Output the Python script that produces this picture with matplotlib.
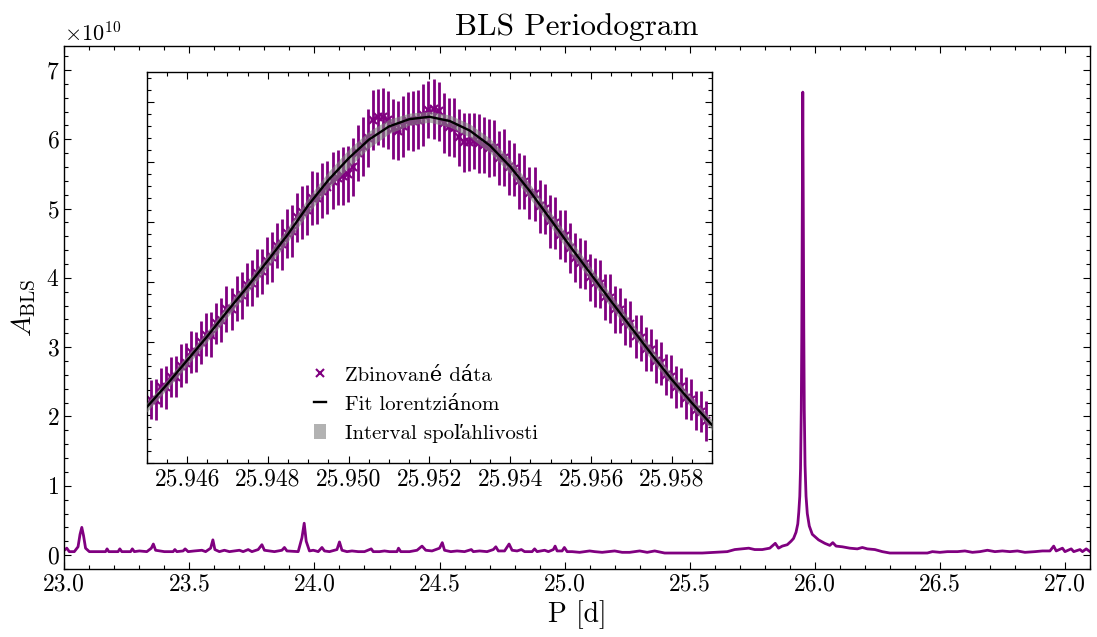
#!/usr/bin/env python3
# BLS periodogram with a zoomed inset around the main peak

import numpy as np
import matplotlib
matplotlib.use("Agg")
import matplotlib.pyplot as plt
from matplotlib.ticker import MultipleLocator, NullFormatter, FormatStrFormatter

# --- data (amplitudes in units of 1e10) ---
SCALE = 1e10

# full periodogram
period = [
    23.000, 23.010, 23.020, 23.040, 23.055, 23.063, 23.070, 23.077, 23.085, 23.100,
    23.140, 23.165, 23.171, 23.178, 23.215, 23.222, 23.230, 23.265, 23.272, 23.280,
    23.300, 23.330, 23.348, 23.356, 23.365, 23.400, 23.435, 23.442, 23.450, 23.475,
    23.483, 23.495, 23.520, 23.550, 23.565, 23.585, 23.594, 23.602, 23.620, 23.640,
    23.660, 23.700, 23.715, 23.735, 23.750, 23.775, 23.790, 23.800, 23.840, 23.870,
    23.880, 23.890, 23.935, 23.950, 23.959, 23.967, 23.980, 23.995, 24.006, 24.015,
    24.030, 24.040, 24.060, 24.090, 24.100, 24.110, 24.130, 24.150, 24.175, 24.200,
    24.227, 24.235, 24.260, 24.280, 24.300, 24.330, 24.336, 24.345, 24.380, 24.410,
    24.430, 24.445, 24.470, 24.500, 24.511, 24.520, 24.545, 24.570, 24.600, 24.627,
    24.635, 24.660, 24.690, 24.715, 24.725, 24.735, 24.760, 24.778, 24.790, 24.810,
    24.827, 24.840, 24.870, 24.880, 24.890, 24.920, 24.935, 24.955, 24.962, 24.970,
    24.990, 24.999, 25.010, 25.030, 25.060, 25.080, 25.100, 25.120, 25.150, 25.200,
    25.230, 25.260, 25.300, 25.330, 25.360, 25.400, 25.450, 25.500, 25.550, 25.600,
    25.650, 25.680, 25.710, 25.736, 25.760, 25.790, 25.820, 25.842, 25.855, 25.870,
    25.890, 25.905, 25.915, 25.925, 25.932, 25.936, 25.940, 25.943, 25.946, 25.948,
    25.950, 25.952, 25.954, 25.956, 25.958, 25.961, 25.965, 25.970, 25.978, 25.990,
    26.015, 26.040, 26.060, 26.072, 26.085, 26.110, 26.140, 26.170, 26.190, 26.210,
    26.240, 26.270, 26.300, 26.350, 26.400, 26.450, 26.470, 26.500, 26.530, 26.570,
    26.600, 26.630, 26.660, 26.690, 26.720, 26.750, 26.780, 26.810, 26.840, 26.880,
    26.910, 26.940, 26.955, 26.965, 26.990, 27.000, 27.025, 27.035, 27.060, 27.070,
    27.085, 27.100,
]
power = [
    0.07, 0.10, 0.05, 0.05, 0.12, 0.30, 0.40, 0.28, 0.10, 0.05,
    0.05, 0.05, 0.09, 0.05, 0.05, 0.09, 0.05, 0.05, 0.09, 0.05,
    0.06, 0.05, 0.10, 0.16, 0.07, 0.05, 0.05, 0.08, 0.05, 0.06,
    0.09, 0.05, 0.06, 0.07, 0.05, 0.10, 0.22, 0.08, 0.05, 0.07,
    0.05, 0.07, 0.05, 0.08, 0.05, 0.08, 0.15, 0.07, 0.05, 0.07,
    0.11, 0.06, 0.05, 0.25, 0.46, 0.20, 0.06, 0.07, 0.06, 0.05,
    0.11, 0.06, 0.05, 0.08, 0.19, 0.07, 0.05, 0.06, 0.05, 0.05,
    0.09, 0.05, 0.05, 0.06, 0.05, 0.05, 0.10, 0.05, 0.05, 0.07,
    0.13, 0.07, 0.06, 0.10, 0.18, 0.07, 0.05, 0.06, 0.05, 0.08,
    0.05, 0.06, 0.05, 0.08, 0.12, 0.06, 0.06, 0.16, 0.07, 0.06,
    0.08, 0.05, 0.05, 0.09, 0.05, 0.07, 0.05, 0.08, 0.13, 0.06,
    0.06, 0.11, 0.05, 0.05, 0.04, 0.05, 0.06, 0.05, 0.04, 0.06,
    0.04, 0.04, 0.06, 0.04, 0.06, 0.03, 0.03, 0.03, 0.03, 0.04,
    0.05, 0.08, 0.09, 0.10, 0.08, 0.08, 0.10, 0.17, 0.10, 0.13,
    0.15, 0.20, 0.24, 0.33, 0.45, 0.62, 0.85, 1.25, 2.10, 3.20,
    5.00, 6.68, 5.00, 3.30, 2.10, 1.30, 0.85, 0.60, 0.42, 0.30,
    0.22, 0.17, 0.14, 0.18, 0.13, 0.12, 0.10, 0.09, 0.11, 0.09,
    0.08, 0.05, 0.03, 0.03, 0.03, 0.03, 0.05, 0.04, 0.05, 0.05,
    0.06, 0.04, 0.05, 0.07, 0.05, 0.06, 0.05, 0.06, 0.04, 0.05,
    0.06, 0.06, 0.13, 0.06, 0.10, 0.05, 0.09, 0.05, 0.08, 0.05,
    0.09, 0.05,
]

# binned data around the peak
bin_start = 25.9451
bin_width = 0.000125
binned_power = [
    2.05, 2.05, 2.25, 2.25, 2.42, 2.43, 2.61, 2.66, 2.84, 2.84,
    3.00, 3.13, 3.13, 3.32, 3.37, 3.55, 3.56, 3.73, 3.78, 3.96,
    3.99, 4.16, 4.18, 4.36, 4.42, 4.61, 4.63, 4.81, 4.85, 5.08,
    5.16, 5.20, 5.40, 5.40, 5.52, 5.58, 5.69, 5.74, 5.77, 5.80,
    5.92, 6.15, 6.26, 6.40, 6.69, 6.75, 6.74, 6.70, 6.55, 6.52,
    6.59, 6.68, 6.68, 6.70, 6.78, 6.87, 6.88, 6.84, 6.64, 6.58,
    6.57, 6.41, 6.33, 6.33, 6.35, 6.31, 6.28, 6.23, 6.23, 6.07,
    6.07, 5.91, 5.88, 5.68, 5.66, 5.48, 5.46, 5.26, 5.22, 5.01,
    4.98, 4.79, 4.77, 4.57, 4.41, 4.32, 4.30, 4.08, 3.99, 3.97,
    3.76, 3.73, 3.55, 3.53, 3.34, 3.30, 3.10, 3.07, 2.89, 2.87,
    2.69, 2.65, 2.46, 2.43, 2.26, 2.25, 2.08, 2.05, 1.87, 1.85,
    1.69,
]
binned_err = [
    0.33, 0.34, 0.32, 0.35, 0.33, 0.34, 0.36, 0.33, 0.35, 0.34,
    0.36, 0.35, 0.37, 0.34, 0.36, 0.38, 0.35, 0.37, 0.39, 0.36,
    0.38, 0.40, 0.37, 0.39, 0.41, 0.38, 0.42, 0.40, 0.43, 0.41,
    0.44, 0.42, 0.45, 0.43, 0.46, 0.44, 0.47, 0.45, 0.48, 0.46,
    0.48, 0.47, 0.49, 0.48, 0.50, 0.47, 0.49, 0.48, 0.50, 0.49,
    0.51, 0.48, 0.50, 0.49, 0.51, 0.48, 0.50, 0.49, 0.50, 0.48,
    0.49, 0.47, 0.49, 0.48, 0.47, 0.49, 0.46, 0.48, 0.47, 0.45,
    0.47, 0.46, 0.44, 0.46, 0.45, 0.43, 0.45, 0.44, 0.42, 0.44,
    0.43, 0.41, 0.43, 0.42, 0.40, 0.42, 0.41, 0.39, 0.41, 0.40,
    0.38, 0.40, 0.39, 0.37, 0.39, 0.38, 0.36, 0.38, 0.37, 0.35,
    0.37, 0.36, 0.34, 0.36, 0.35, 0.33, 0.35, 0.34, 0.32, 0.34,
    0.33,
]

# Lorentzian fit and its confidence band
fit_period = [
    25.9450, 25.9455, 25.9460, 25.9465, 25.9470, 25.9475, 25.9480, 25.9485,
    25.9490, 25.9495, 25.9500, 25.9505, 25.9510, 25.9515, 25.9520, 25.9525,
    25.9530, 25.9535, 25.9540, 25.9545, 25.9550, 25.9555, 25.9560, 25.9565,
    25.9570, 25.9575, 25.9580, 25.9585, 25.9590,
]
fit_power = [
    1.92, 2.30, 2.70, 3.10, 3.52, 3.93, 4.36, 4.80,
    5.28, 5.70, 6.06, 6.37, 6.59, 6.71, 6.75, 6.68,
    6.52, 6.27, 5.92, 5.50, 5.04, 4.58, 4.13, 3.68,
    3.24, 2.80, 2.38, 1.99, 1.62,
]
fit_band = [
    0.08, 0.08, 0.09, 0.09, 0.10, 0.10, 0.11, 0.12,
    0.13, 0.14, 0.15, 0.14, 0.12, 0.10, 0.09, 0.10,
    0.11, 0.12, 0.12, 0.12, 0.12, 0.12, 0.11, 0.11,
    0.10, 0.10, 0.09, 0.09, 0.08,
]

# --- style ---
plt.rcParams['font.family'] = ['cmr10', 'DejaVu Serif']
plt.rcParams['mathtext.fontset'] = 'cm'
plt.rcParams['axes.formatter.use_mathtext'] = True
plt.rcParams['axes.unicode_minus'] = False
plt.rcParams['xtick.direction'] = 'in'
plt.rcParams['ytick.direction'] = 'in'
plt.rcParams['xtick.top'] = True
plt.rcParams['ytick.right'] = True
plt.rcParams['xtick.major.size'] = 5
plt.rcParams['ytick.major.size'] = 5
plt.rcParams['xtick.minor.size'] = 2.8
plt.rcParams['ytick.minor.size'] = 2.8
plt.rcParams['xtick.major.width'] = 0.8
plt.rcParams['ytick.major.width'] = 0.8
plt.rcParams['xtick.minor.width'] = 0.8
plt.rcParams['ytick.minor.width'] = 0.8
plt.rcParams['axes.linewidth'] = 1.0
plt.rcParams['font.size'] = 17

PURPLE = '#800080'

fig = plt.figure(figsize=(10.97, 6.37), dpi=100)
ax = fig.add_axes([0.0586, 0.1068, 0.935, 0.8215])

p = np.array(period)
a = np.array(power) * SCALE
ax.plot(p, a, color=PURPLE, linewidth=2.0)

ax.set_xlim(23.0, 27.1)
ax.set_ylim(-0.2 * SCALE, 7.35 * SCALE)
ax.xaxis.set_major_locator(MultipleLocator(0.5))
ax.xaxis.set_minor_locator(MultipleLocator(0.1))
ax.yaxis.set_major_locator(MultipleLocator(1 * SCALE))
ax.yaxis.set_minor_locator(MultipleLocator(0.2 * SCALE))
ax.xaxis.set_major_formatter(FormatStrFormatter('%.1f'))
ax.tick_params(labelsize=17)
ax.yaxis.get_offset_text().set_fontsize(16)

ax.set_title('BLS Periodogram', fontsize=22.5, pad=8)
ax.set_xlabel('P [d]', fontsize=20, labelpad=3)
ax.set_ylabel(r'$A_{\mathrm{BLS}}$', fontsize=20, labelpad=6)

# --- inset ---
ins = fig.add_axes([0.1337, 0.2727, 0.5156, 0.6148])
ins.set_facecolor('white')

bins = bin_start + bin_width * np.arange(len(binned_power))
fp = np.array(fit_power)
fb = np.array(fit_band)

eb = ins.errorbar(bins, np.array(binned_power) * SCALE,
                  yerr=np.array(binned_err) * SCALE, xerr=bin_width / 2,
                  fmt='x', color=PURPLE, ecolor=PURPLE, elinewidth=2.0,
                  markersize=6, markeredgewidth=1.5, capsize=0, zorder=2)
band = ins.fill_between(fit_period, (fp - fb) * SCALE, (fp + fb) * SCALE,
                        color='gray', alpha=0.6, linewidth=0, zorder=3)
fit_line, = ins.plot(fit_period, fp * SCALE, color='black', linewidth=1.7, zorder=4)

ins.set_xlim(25.945, 25.959)
ins.set_ylim(0.99 * SCALE, 7.5 * SCALE)
ins.xaxis.set_major_locator(MultipleLocator(0.002))
ins.xaxis.set_minor_locator(MultipleLocator(0.0005))
ins.xaxis.set_major_formatter(FormatStrFormatter('%.3f'))
ins.yaxis.set_major_locator(MultipleLocator(1 * SCALE))
ins.yaxis.set_minor_locator(MultipleLocator(0.2 * SCALE))
ins.yaxis.set_major_formatter(NullFormatter())
ins.tick_params(labelsize=17)

ins.legend([eb[0], fit_line, band],
           ['Zbinované dáta', 'Fit lorentziánom', 'Interval spoľahlivosti'],
           loc='center left', bbox_to_anchor=(0.262, 0.15), frameon=False,
           fontsize=15, handlelength=0.6, handletextpad=0.9, labelspacing=0.5,
           borderpad=0.4)

fig.savefig('out.png', dpi=100)
